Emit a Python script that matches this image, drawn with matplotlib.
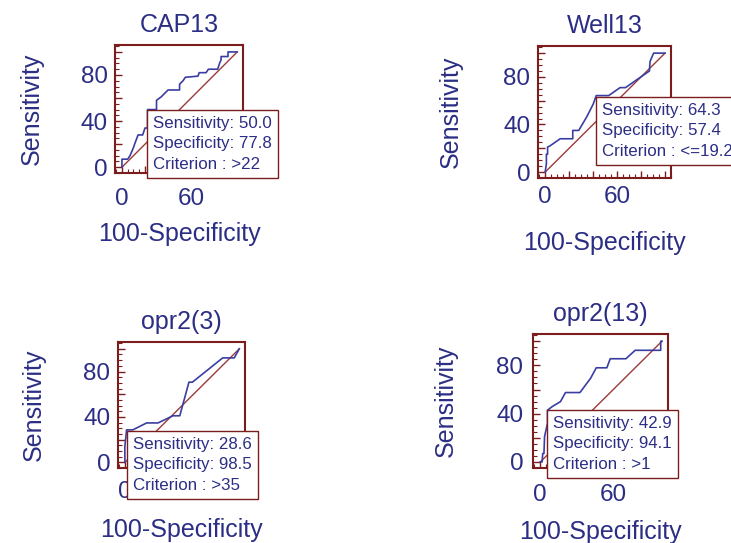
import matplotlib
matplotlib.use("Agg")
import matplotlib.pyplot as plt
from matplotlib.ticker import MultipleLocator, FuncFormatter

plt.rcParams["font.family"] = ["Liberation Sans", "DejaVu Sans"]

NAVY = "#2b2e84"
LINE = "#3a3ea2"
MAROON = "#7b1d1d"
DIAG = "#9a3a3a"

W, H = 731, 543

# --- data ---
titles = ["CAP13", "Well13", "opr2(3)", "opr2(13)"]

cap13_fpr = [0, 0, 5, 7, 10, 11, 14, 18, 20, 22.2, 22.2, 30, 30, 34, 40, 50, 50, 53, 55, 66, 67, 73, 75, 83, 85, 86, 86, 92, 92, 100]
cap13_tpr = [0, 7, 7, 10, 17, 20, 28, 28, 34, 34, 50, 50, 58, 61, 67, 67, 72, 75, 78, 79, 82, 82, 85, 85, 91, 93, 96, 96, 100, 100]

well13_fpr = [0, 1, 1, 2, 2, 4, 12.5, 23, 23, 28, 35, 40, 42.6, 53, 62.5, 67, 87, 87.5, 90.5, 100]
well13_tpr = [0, 7, 15, 15, 21, 22, 28, 28, 35, 35, 47, 57, 64.3, 64.3, 71, 71, 85, 93, 100, 100]

opr3_fpr = [0, 0, 1.5, 7, 19, 29, 42, 48, 56, 59, 85.5, 95.6, 100]
opr3_tpr = [0, 14, 28.6, 28.6, 34.7, 34.7, 41, 41, 70.6, 70.6, 92, 92, 100]

opr13_fpr = [0, 1.5, 2, 3, 3.5, 5.9, 5.9, 10, 16.6, 20.7, 32.6, 41.4, 46, 54.7, 57.5, 70.4, 78, 99, 99, 100]
opr13_tpr = [0, 0, 7, 7, 21, 32, 42.9, 46, 50, 57.5, 57.5, 69.4, 78, 78, 85.5, 85.5, 92.5, 92.5, 100, 100]

fprs = [cap13_fpr, well13_fpr, opr3_fpr, opr13_fpr]
tprs = [cap13_tpr, well13_tpr, opr3_tpr, opr13_tpr]

sensitivity = ["50.0", "64.3", "28.6", "42.9"]
specificity = ["77.8", "57.4", "98.5", "94.1"]
criterion = [">22", "<=19.2", ">35", ">1"]

y_ticklabels = [0, 40, 80]
x_ticklabels = [0, 60]

# --- layout in pixels: frame (l, t, r, b), x tick pad, y tick pad,
#     xlabel top, ylabel right edge, info box (left, top)
frames = [(115, 45, 243, 173), (538, 46, 671, 178), (118, 342, 245, 468), (533, 334, 668, 468)]
xpads = [10.5, 6.0, 9.5, 11.5]
ypads = [5.0, 5.5, 5.5, 7.0]
xlabel_tops = [222, 231, 518, 520]
ylabel_rights = [44, 463, 46, 458]
boxes = [(147, 110), (596, 97), (127, 431), (547, 410)]

fig = plt.figure(figsize=(W / 100, H / 100), dpi=100)

for i in range(4):
    l, t, r, b = frames[i]
    fw, fh = r - l, b - t
    ax = fig.add_axes([l / W, 1 - b / H, fw / W, fh / H])

    ax.plot([0, 100], [0, 100], color=DIAG, lw=1.0)
    ax.plot(fprs[i], tprs[i], color=LINE, lw=1.2)
    ax.set_xlim(-6, 105)
    ax.set_ylim(-5, 106)

    for s in ax.spines.values():
        s.set_color(MAROON)
        s.set_linewidth(1.5)

    ax.xaxis.set_major_locator(MultipleLocator(20))
    ax.xaxis.set_minor_locator(MultipleLocator(5))
    ax.yaxis.set_major_locator(MultipleLocator(20))
    ax.yaxis.set_minor_locator(MultipleLocator(5))
    ax.xaxis.set_major_formatter(FuncFormatter(
        lambda v, p: f"{v:.0f}" if round(v) in x_ticklabels else ""))
    ax.yaxis.set_major_formatter(FuncFormatter(
        lambda v, p: f"{v:.0f}" if round(v) in y_ticklabels else ""))

    ax.tick_params(which="both", direction="in", color=MAROON,
                   top=False, right=False, labelcolor=NAVY, labelsize=17.5)
    ax.tick_params(which="major", length=5, width=1)
    ax.tick_params(which="minor", length=3, width=0.8)
    ax.tick_params(axis="x", pad=xpads[i])
    ax.tick_params(axis="y", pad=ypads[i])

    ax.set_title(titles[i], fontsize=18, color=NAVY, pad=9.5)
    ax.set_xlabel("100-Specificity", fontsize=18, color=NAVY)
    ax.xaxis.set_label_coords(0.5, (b - xlabel_tops[i]) / fh)
    ax.set_ylabel("Sensitivity", fontsize=18, color=NAVY)
    ax.yaxis.set_label_coords((ylabel_rights[i] - l) / fw, 0.5)

    bx, by = boxes[i]
    txt = (f"Sensitivity: {sensitivity[i]}\n"
           f"Specificity: {specificity[i]}\n"
           f"Criterion : {criterion[i]}")
    ax.text((bx + 6 - l) / fw, (b - by - 6) / fh, txt, transform=ax.transAxes,
            ha="left", va="top", fontsize=12.2, color=NAVY, linespacing=1.45,
            clip_on=False, zorder=10,
            bbox=dict(boxstyle="square,pad=0.36", fc="white", ec=MAROON, lw=1))

fig.savefig("out.png", dpi=100)
